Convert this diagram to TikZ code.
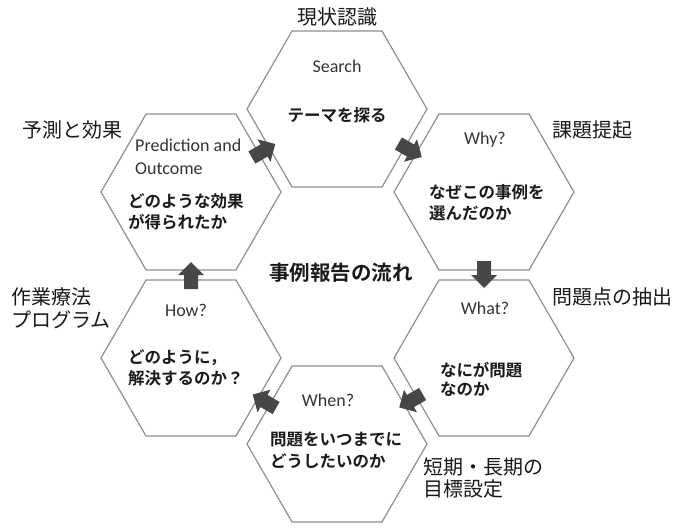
\documentclass[tikz,border=0pt]{standalone}
\usepackage{fontspec}
\setmainfont{Carlito}
\newfontfamily\jp{Noto Sans CJK JP}[BoldFont={Noto Sans CJK JP Bold}]
\usetikzlibrary{shapes.geometric,calc}
\definecolor{hexline}{HTML}{8E8E8E}
\definecolor{arrowgray}{HTML}{474747}
\definecolor{entext}{HTML}{333333}
\definecolor{jptext}{HTML}{1A1A1A}
\begin{document}
\begin{tikzpicture}[x=1pt,y=-1pt,
  hexa/.style={regular polygon, regular polygon sides=6, minimum size=180pt, inner sep=0pt, outer sep=0pt, draw=hexline, line width=1.2pt},
  entxt/.style={font=\fontsize{18}{20}\selectfont, text=entext, inner sep=0pt},
  jpbody/.style={font=\jp\bfseries\fontsize{16.5}{20}\selectfont, text=jptext, inner sep=0pt, anchor=west},
  jplabel/.style={font=\jp\fontsize{20}{24}\selectfont, text=black!90, inner sep=0pt, anchor=west},
  blockarrow/.style={fill=arrowgray, draw=none}
]
\useasboundingbox (0,0) rectangle (679,527);
% hexagons
\node[hexa] (S)  at (337,109) {};
\node[hexa] (W)  at (484,192) {};
\node[hexa] (Wh) at (484,358) {};
\node[hexa] (Wn) at (337,444) {};
\node[hexa] (H)  at (191,358) {};
\node[hexa] (P)  at (191,192) {};
% arrow positions
\coordinate (aPS)  at ($(P)!0.5!(S)$);
\coordinate (aSW)  at ($(S)!0.5!(W)$);
\coordinate (aWWh) at ($(W)!0.5!(Wh)$);
\coordinate (aWhWn) at ($(Wh)!0.5!(Wn)$);
\coordinate (aWnH) at ($(Wn)!0.5!(H)$);
\coordinate (aHP)  at ($(H)!0.5!(P)$);
\foreach \c/\r in {aPS/30, aSW/-30, aWWh/-90, aWhWn/-150, aWnH/150, aHP/90}{
  \path[blockarrow, shift={(\c)}, rotate=\r]
    (-14,-7) -- (0,-7) -- (0,-13) -- (13,0) -- (0,13) -- (0,7) -- (-14,7) -- cycle;
}
% centre title
\node[font=\jp\bfseries\fontsize{20.5}{24}\selectfont, text=jptext, inner sep=0pt] (title) at (341,273) {事例報告の流れ};
% Search
\node[jplabel, anchor=center] (lS) at (337,17) {現状認識};
\node[entxt] (tS) at (337,66) {Search};
\node[jpbody, anchor=center] (bS) at (337,115) {テーマを探る};
% Why
\node[jplabel] (lW) at (552,130) {課題提起};
\node[entxt] (tW) at (485,140) {Why?};
\node[jpbody] (bW1) at (429,192) {なぜこの事例を};
\node[jpbody] (bW2) at (429,213) {選んだのか};
% What
\node[jplabel] (lWh) at (552,297) {問題点の抽出};
\node[entxt] (tWh) at (485,308) {What?};
\node[jpbody] (bWh1) at (440,370) {なにが問題};
\node[jpbody] (bWh2) at (440,389) {なのか};
% When
\node[jplabel] (lWn1) at (423,467) {短期・長期の};
\node[jplabel] (lWn2) at (423,489) {目標設定};
\node[entxt] (tWn) at (328,400) {When?};
\node[jpbody] (bWn1) at (270,440) {問題をいつまでに};
\node[jpbody] (bWn2) at (270,461) {どうしたいのか};
% How
\node[jplabel] (lH1) at (11,297) {作業療法};
\node[jplabel] (lH2) at (11,320) {プログラム};
\node[entxt] (tH) at (186,310) {How?};
\node[jpbody] (bH1) at (128,358) {どのように，};
\node[jpbody] (bH2) at (128,378) {解決するのか？};
% Prediction
\node[jplabel] (lP) at (22,130) {予測と効果};
\node[entxt, anchor=west] (tP1) at (135,145) {Prediction and};
\node[entxt, anchor=west] (tP2) at (135,169) {Outcome};
\node[jpbody] (bP1) at (128,201) {どのような効果};
\node[jpbody] (bP2) at (128,222) {が得られたか};
\end{tikzpicture}
\end{document}
